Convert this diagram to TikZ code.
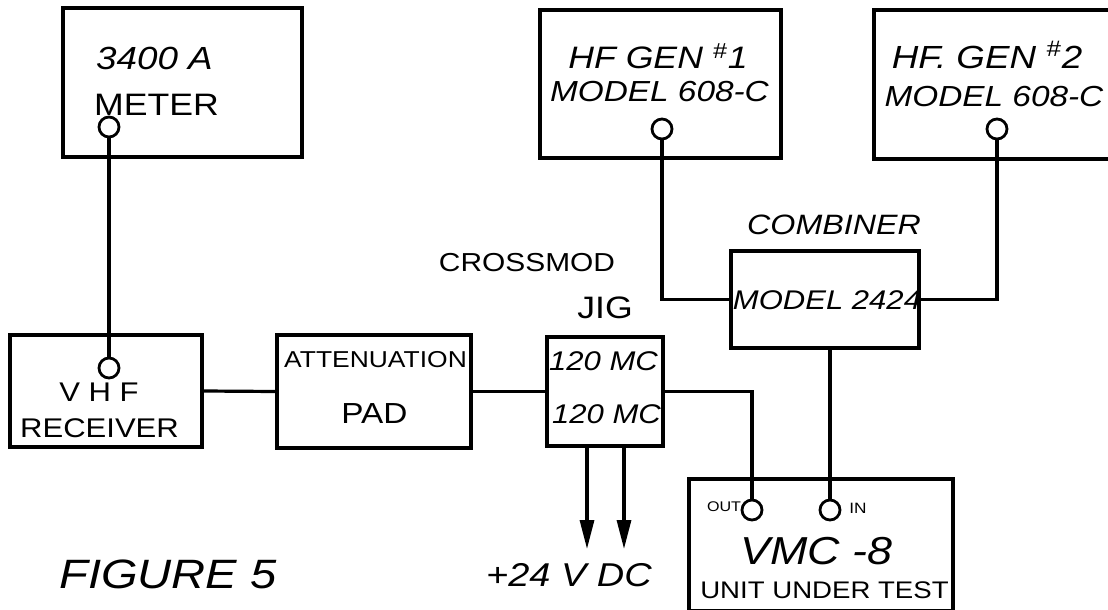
\documentclass[tikz,border=0pt]{standalone}
\usepackage{fontspec}
\setmainfont{Liberation Sans}[FakeStretch=1.15]
\usetikzlibrary{arrows.meta}

\tikzset{
  devbox/.style={draw, line width=1.6pt, inner sep=0pt},
  jack/.style={draw, circle, line width=1.4pt, fill=white, minimum size=10pt, inner sep=0pt},
  lbl/.style={inner sep=0pt},
  wire/.style={line width=1.6pt},
  supply/.style={line width=1.6pt, -{Triangle[length=14.5pt, width=7pt]}}
}

\begin{document}
\begin{tikzpicture}[x=0.5pt, y=-0.5pt]
    \useasboundingbox (0,0) rectangle (1108,610);

    \node[devbox, minimum width=119.5pt, minimum height=74.5pt] (meter) at (182.5,82.5) {};
    \node[devbox, minimum width=120.5pt, minimum height=74pt] (genA) at (660.5,84) {};
    \node[devbox, minimum width=120.5pt, minimum height=74.5pt] (genB) at (994.5,84.5) {};
    \node[devbox, minimum width=94pt, minimum height=48.5pt] (comb) at (825,299.5) {};
    \node[devbox, minimum width=96pt, minimum height=56pt] (rcvr) at (106,391) {};
    \node[devbox, minimum width=97pt, minimum height=56.5pt] (attn) at (374,391.5) {};
    \node[devbox, minimum width=58pt, minimum height=54.5pt] (jig) at (605,391.5) {};
    \node[devbox, minimum width=132pt, minimum height=66pt] (vmc) at (821,545) {};

    \node[lbl, font=\fontsize{16}{18}\selectfont\itshape] (meterA) at (154.5,58) {3400 A};
    \node[lbl, font=\fontsize{15.5}{18}\selectfont] (meterB) at (156.5,105) {METER};
    \node[lbl, font=\fontsize{15.5}{18}\selectfont\itshape] (genAa) at (658,56) {HF GEN \textsuperscript{\#}1};
    \node[lbl, font=\fontsize{14.5}{18}\selectfont\itshape] (genAb) at (659.5,92) {MODEL 608-C};
    \node[lbl, font=\fontsize{16}{18}\selectfont\itshape] (genBa) at (987,55) {HF. GEN \textsuperscript{\#}2};
    \node[lbl, font=\fontsize{14.5}{18}\selectfont\itshape] (genBb) at (994,97) {MODEL 608-C};
    \node[lbl, font=\fontsize{14}{18}\selectfont\itshape] (combA) at (834,225) {COMBINER};
    \node[lbl, font=\fontsize{13.5}{18}\selectfont\itshape] (combB) at (827,300) {MODEL 2424};
    \node[lbl, font=\fontsize{13}{18}\selectfont] (jigA) at (527,263) {CROSSMOD};
    \node[lbl, font=\fontsize{15.5}{18}\selectfont] (jigB) at (605,308) {JIG};
    \node[lbl, font=\fontsize{13.5}{18}\selectfont\itshape] (jigC) at (603.5,361) {120 MC};
    \node[lbl, font=\fontsize{13.5}{18}\selectfont\itshape] (jigD) at (606.5,414) {120 MC};
    \node[lbl, font=\fontsize{11.5}{18}\selectfont] (attnA) at (375.5,360) {ATTENUATION};
    \node[lbl, font=\fontsize{14.5}{18}\selectfont] (attnB) at (374.5,414) {PAD};
    \node[lbl, font=\fontsize{13.5}{18}\selectfont] (rcvrA) at (99,392) {V H F};
    \node[lbl, font=\fontsize{13.5}{18}\selectfont] (rcvrB) at (99.5,428) {RECEIVER};
    \node[lbl, font=\fontsize{19.5}{22}\selectfont\itshape] (vmcA) at (816.5,551) {VMC -8};
    \node[lbl, font=\fontsize{12}{14}\selectfont] (vmcB) at (824.5,590) {UNIT UNDER TEST};
    \node[lbl, font=\fontsize{7}{8}\selectfont] (outlbl) at (724,507) {OUT};
    \node[lbl, font=\fontsize{7.5}{8}\selectfont] (inlbl) at (858,508) {IN};
    \node[lbl, font=\fontsize{16.5}{20}\selectfont\itshape] (dclbl) at (569,575) {+24 V DC};
    \node[lbl, font=\fontsize{20.5}{24}\selectfont\itshape] (figlbl) at (168,574) {FIGURE 5};

    \node[jack] (meterport) at (109,127) {};
    \node[jack] (rcvrport) at (109,368) {};
    \node[jack] (genAport) at (662,129) {};
    \node[jack] (genBport) at (997,129) {};
    \node[jack] (outport) at (752,510) {};
    \node[jack] (inport) at (830,510) {};

    \coordinate (dcA) at (587,549);
    \coordinate (dcB) at (624,549);

    \draw[wire] (meterport) -- (rcvrport);
    \draw[wire] (rcvr.east) -- (attn.west);
    \draw[wire] (attn.east) -- (jig.west);
    \draw[wire] (jig.east) -| (outport);
    \draw[wire] (genAport) |- (comb.west);
    \draw[wire] (genBport) |- (comb.east);
    \draw[wire] (comb.south -| inport) -- (inport);
    \draw[supply] (jig.south -| dcA) -- (dcA);
    \draw[supply] (jig.south -| dcB) -- (dcB);
\end{tikzpicture}
\end{document}
